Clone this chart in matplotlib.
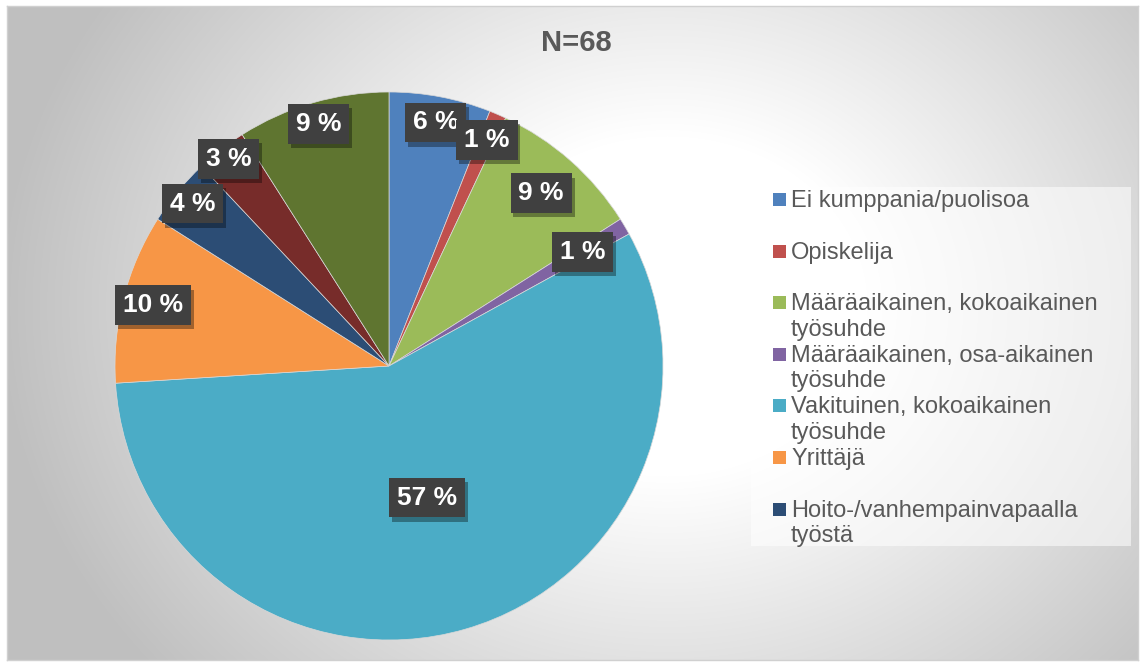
import numpy as np
import matplotlib.pyplot as plt
from matplotlib.patches import Rectangle
import matplotlib.patheffects as pe

plt.rcParams['font.family'] = ['Liberation Sans', 'DejaVu Sans']

categories = [
    "Ei kumppania/puolisoa",
    "Opiskelija",
    "Määräaikainen, kokoaikainen\ntyösuhde",
    "Määräaikainen, osa-aikainen\ntyösuhde",
    "Vakituinen, kokoaikainen\ntyösuhde",
    "Yrittäjä",
    "Hoito-/vanhempainvapaalla\ntyöstä",
    "Muu 1",
    "Muu 2",
]
shares = [6, 1, 9, 1, 57, 10, 4, 3, 9]
labels = ["6 %", "1 %", "9 %", "1 %", "57 %", "10 %", "4 %", "3 %", "9 %"]
colors = ["#4F81BD", "#C0504D", "#9BBB59", "#8064A2", "#4BACC6",
          "#F79646", "#2C4D75", "#772C2A", "#5F7530"]
label_dist = [0.905, 0.9, 0.84, 0.82, 0.5, 0.89, 0.93, 0.955, 0.92]
legend_count = 7

W, H = 1141, 665
fig = plt.figure(figsize=(W / 100, H / 100), dpi=100)

# background with radial gradient inside a thin frame
bg = fig.add_axes([7 / W, 5 / H, (1138 - 7) / W, (659 - 5) / H])
yy, xx = np.mgrid[0:654, 0:1131]
d = np.hypot((xx - 660) / 1.0, (yy - 300) / 0.85)
v = 1 - 0.25 * np.clip((d - 200) / 470, 0, 1)
bg.imshow(np.dstack([v, v, v]), aspect='auto', extent=[0, 1, 0, 1])
bg.set_xticks([])
bg.set_yticks([])
for s in bg.spines.values():
    s.set_color('#d0d0d0')
    s.set_linewidth(1)

# pie
cx, cy, r = 389, 665 - 366, 274
ax = fig.add_axes([(cx - r) / W, (cy - r) / H, 2 * r / W, 2 * r / H])
wedges, _ = ax.pie(shares, colors=colors, startangle=90, counterclock=False,
                   radius=1, wedgeprops=dict(edgecolor='#d9d9d9', linewidth=0.5))
ax.set_xlim(-1, 1)
ax.set_ylim(-1, 1)
ax.axis('off')

for w, lab, dist in zip(wedges, labels, label_dist):
    ang = np.deg2rad((w.theta1 + w.theta2) / 2)
    x, y = dist * np.cos(ang), dist * np.sin(ang)
    t = ax.text(x, y, lab, ha='center', va='center', fontsize=19,
                fontweight='bold', color='white', zorder=5,
                bbox=dict(boxstyle='square,pad=0.3', facecolor='#404040',
                          edgecolor='none'))
    t.get_bbox_patch().set_path_effects(
        [pe.SimplePatchShadow(offset=(2, -3), alpha=0.35, shadow_rgbFace='black'),
         pe.Normal()])

fig.text(576 / W, 1 - 43 / H, "N=68", ha='center', va='center',
         fontsize=21, fontweight='bold', color='#595959')

# legend
fig.patches.append(Rectangle((751 / W, 1 - 546 / H), 380 / W, 359 / H,
                             transform=fig.transFigure, facecolor='white',
                             alpha=0.55, edgecolor='none', zorder=1))
for i in range(legend_count):
    base = 207 + 51.6 * i
    fig.patches.append(Rectangle((773 / W, 1 - (base - 1) / H), 13 / W, 13 / H,
                                 transform=fig.transFigure, facecolor=colors[i],
                                 edgecolor='none', zorder=2))
    for j, line in enumerate(categories[i].split("\n")):
        fig.text(791 / W, 1 - (base + 25.5 * j) / H, line, ha='left',
                 va='baseline', fontsize=17, color='#595959')

fig.savefig('out.png', dpi=100)
